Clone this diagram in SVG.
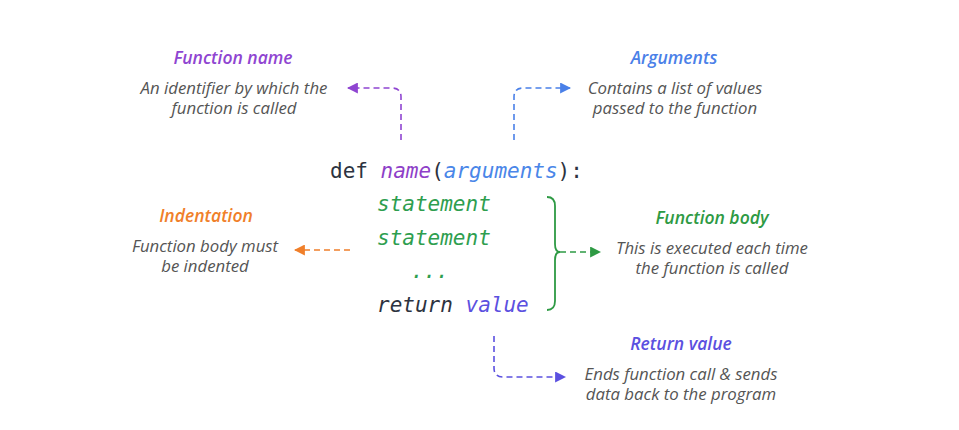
<svg xmlns="http://www.w3.org/2000/svg" width="959" height="430" viewBox="0 0 959 430">
  <style>
    .title { font-family: "Open Sans", "Noto Sans", sans-serif; font-style: italic; font-weight: 600; font-size: 17.5px; text-anchor: middle; }
    .desc { font-family: "Open Sans", "Noto Sans", sans-serif; font-style: italic; font-size: 16.8px; fill: #555; text-anchor: middle; }
    .code { font-family: "DejaVu Sans Mono", "Liberation Mono", monospace; font-size: 21px; }
    .it { font-style: italic; }
    .link { fill: none; stroke-width: 1.6; stroke-dasharray: 6 4; }
  </style>
  <defs>
    <marker id="ah-purple" viewBox="0 0 10 10" refX="9" refY="5" markerWidth="11" markerHeight="11" markerUnits="userSpaceOnUse" orient="auto"><path d="M0,0 L10,5 L0,10 Z" fill="#8f45d1"/></marker>
    <marker id="ah-blue" viewBox="0 0 10 10" refX="9" refY="5" markerWidth="11" markerHeight="11" markerUnits="userSpaceOnUse" orient="auto"><path d="M0,0 L10,5 L0,10 Z" fill="#4a80e8"/></marker>
    <marker id="ah-orange" viewBox="0 0 10 10" refX="9" refY="5" markerWidth="11" markerHeight="11" markerUnits="userSpaceOnUse" orient="auto"><path d="M0,0 L10,5 L0,10 Z" fill="#f07f2a"/></marker>
    <marker id="ah-green" viewBox="0 0 10 10" refX="9" refY="5" markerWidth="11" markerHeight="11" markerUnits="userSpaceOnUse" orient="auto"><path d="M0,0 L10,5 L0,10 Z" fill="#2e9a44"/></marker>
    <marker id="ah-indigo" viewBox="0 0 10 10" refX="9" refY="5" markerWidth="11" markerHeight="11" markerUnits="userSpaceOnUse" orient="auto"><path d="M0,0 L10,5 L0,10 Z" fill="#5b50e0"/></marker>
  </defs>
  <rect width="959" height="430" fill="#ffffff"/>

  <!-- function definition code block -->
  <g id="code">
    <text class="code" x="330" y="178"><tspan fill="#2d3340">def </tspan><tspan class="it" fill="#8e3fc8">name</tspan><tspan fill="#2d3340">(</tspan><tspan class="it" fill="#4a86e8">arguments</tspan><tspan fill="#2d3340">):</tspan></text>
    <text class="code it" x="377" y="211" fill="#2e9e4f">statement</text>
    <text class="code it" x="377" y="245" fill="#2e9e4f">statement</text>
    <text class="code it" x="411" y="278" fill="#2e9e4f">...</text>
    <text class="code" x="377" y="312"><tspan class="it" fill="#2d3340">return </tspan><tspan class="it" fill="#5b50e0">value</tspan></text>
    <path d="M547,197 Q555,197 555,206 V244 Q555,252 560,252 Q555,252 555,260 V301 Q555,310 547,310" fill="none" stroke="#2e9a44" stroke-width="1.8"/>
  </g>

  <g id="function-name">
    <text class="title" x="233" y="64" fill="#8f45d1">Function name</text>
    <text class="desc" x="234" y="94">An identifier by which the<tspan x="234" dy="20">function is called</tspan></text>
  </g>

  <g id="arguments">
    <text class="title" x="674" y="64" fill="#4a80e8">Arguments</text>
    <text class="desc" x="675" y="94">Contains a list of values<tspan x="675" dy="20">passed to the function</tspan></text>
  </g>

  <g id="indentation">
    <text class="title" x="206" y="222" fill="#f07f2a">Indentation</text>
    <text class="desc" x="205" y="252">Function body must<tspan x="205" dy="20">be indented</tspan></text>
  </g>

  <g id="function-body">
    <text class="title" x="712" y="224" fill="#2e9a44">Function body</text>
    <text class="desc" x="712" y="254">This is executed each time<tspan x="712" dy="20">the function is called</tspan></text>
  </g>

  <g id="return-value">
    <text class="title" x="681" y="350" fill="#5b50e0">Return value</text>
    <text class="desc" x="681" y="380">Ends function call &amp; sends<tspan x="681" dy="20">data back to the program</tspan></text>
  </g>

  <g id="connectors">
    <path class="link" d="M401,140 V97 Q401,88 392,88 H348" stroke="#8f45d1" marker-end="url(#ah-purple)"/>
    <path class="link" d="M514,140 V97 Q514,88 523,88 H570" stroke="#4a80e8" marker-end="url(#ah-blue)"/>
    <path class="link" d="M350,250 H295" stroke="#f07f2a" marker-end="url(#ah-orange)"/>
    <path class="link" d="M560,252 H600" stroke="#2e9a44" marker-end="url(#ah-green)"/>
    <path class="link" d="M494,336 V368 Q494,377 503,377 H565" stroke="#5b50e0" marker-end="url(#ah-indigo)"/>
  </g>
</svg>
